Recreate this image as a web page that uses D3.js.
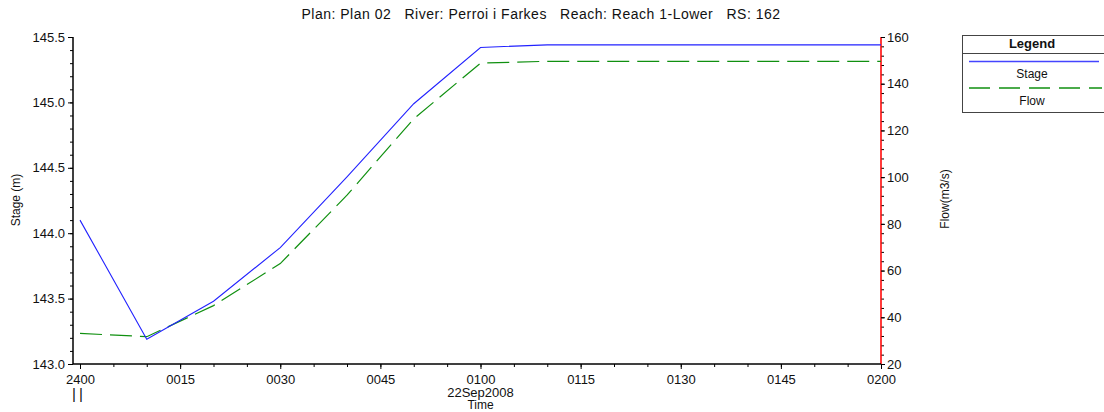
<!DOCTYPE html>
<html>
<head>
<meta charset="utf-8">
<script src="https://cdn.jsdelivr.net/npm/d3@7"></script>
<style>
  body { margin: 0; background: #fff; }
  svg { display: block; font-family: "Liberation Sans", Arial, sans-serif; }
  text { fill: #111; }
</style>
</head>
<body>
<div id="chart"></div>
<script>
// minutes after 2400 on 22Sep2008
const timeMin = [0, 10, 20, 30, 40, 50, 60, 70, 80, 90, 100, 110, 120];
const stage = [144.10, 143.19, 143.48, 143.89, 144.43, 144.99, 145.42, 145.44, 145.44, 145.44, 145.44, 145.44, 145.44];
const flow = [33.1, 31.7, 45.0, 63.0, 92.3, 125.0, 148.8, 149.6, 149.6, 149.6, 149.6, 149.6, 149.6];

const xTicks = [0, 15, 30, 45, 60, 75, 90, 105, 120];
const xTickLabels = ['2400', '0015', '0030', '0045', '0100', '0115', '0130', '0145', '0200'];
const stageTicks = [143.0, 143.5, 144.0, 144.5, 145.0, 145.5];
const flowTicks = [20, 40, 60, 80, 100, 120, 140, 160];

const title = 'Plan: Plan 02   River: Perroi i Farkes   Reach: Reach 1-Lower   RS: 162';

const width = 1104, height = 412;
const plotLeft = 73, plotRight = 881, plotTop = 37, plotBottom = 364;

const svg = d3.select('#chart').append('svg')
    .attr('width', width)
    .attr('height', height);

const x = d3.scaleLinear().domain([-1.05, 120]).range([plotLeft, plotRight]);
const yStage = d3.scaleLinear().domain([143.0, 145.5]).range([plotBottom, plotTop]);
const yFlow = d3.scaleLinear().domain([20, 160]).range([plotBottom, plotTop]);

// title
svg.append('text')
    .attr('x', 541).attr('y', 19)
    .attr('text-anchor', 'middle')
    .style('font-size', '14px')
    .style('letter-spacing', '0.5px')
    .style('white-space', 'pre')
    .attr('xml:space', 'preserve')
    .text(title);

// left axis (stage)
const gLeft = svg.append('g').attr('transform', 'translate(' + plotLeft + ',0)');
gLeft.call(d3.axisLeft(yStage).tickValues(d3.range(143.0, 145.51, 0.1)).tickSize(3).tickFormat(''));
gLeft.append('g').call(d3.axisLeft(yStage).tickValues(stageTicks).tickSize(5).tickPadding(3).tickFormat(d3.format('.1f')));
gLeft.selectAll('.domain').attr('stroke', '#000').attr('d', 'M0,' + plotTop + 'V' + plotBottom);
gLeft.selectAll('text').style('font-size', '13px').attr('fill', '#222');
gLeft.selectAll('line').attr('stroke', '#000');

// right axis (flow), red
const gRight = svg.append('g').attr('transform', 'translate(' + plotRight + ',0)');
gRight.call(d3.axisRight(yFlow).tickValues(d3.range(20, 160.1, 4)).tickSize(3).tickFormat(''));
gRight.append('g').call(d3.axisRight(yFlow).tickValues(flowTicks).tickSize(4).tickPadding(2));
gRight.selectAll('.domain').attr('stroke', '#ff2020').attr('stroke-width', 1.3).attr('d', 'M0,' + plotTop + 'V' + plotBottom);
gRight.selectAll('text').style('font-size', '13px').attr('fill', '#222');
gRight.selectAll('line').attr('stroke', '#000');

// bottom axis (time)
const gBottom = svg.append('g').attr('transform', 'translate(0,' + plotBottom + ')');
gBottom.call(d3.axisBottom(x).tickValues(d3.range(0, 120.1, 5)).tickSize(3).tickFormat(''));
gBottom.append('g').call(d3.axisBottom(x).tickValues(xTicks).tickSize(5).tickPadding(6)
    .tickFormat((d, i) => xTickLabels[i]));
gBottom.selectAll('.domain').attr('stroke', '#000').attr('d', 'M' + plotLeft + ',0H' + plotRight);
gBottom.selectAll('text').style('font-size', '13px').attr('fill', '#222');
gBottom.selectAll('line').attr('stroke', '#000');

// date and axis titles
svg.append('text')
    .attr('x', x(60)).attr('y', 397)
    .attr('text-anchor', 'middle')
    .style('font-size', '13px')
    .text('22Sep2008');
svg.append('text')
    .attr('x', x(60)).attr('y', 409)
    .attr('text-anchor', 'middle')
    .style('font-size', '12px')
    .text('Time');
svg.append('text')
    .attr('x', x(0) - 1).attr('y', 399)
    .attr('text-anchor', 'middle')
    .style('font-size', '15px')
    .style('letter-spacing', '3px')
    .text('||');

svg.append('text')
    .attr('transform', 'translate(20,200) rotate(-90)')
    .attr('text-anchor', 'middle')
    .style('font-size', '12px')
    .text('Stage (m)');
svg.append('text')
    .attr('transform', 'translate(949,199) rotate(-90)')
    .attr('text-anchor', 'middle')
    .style('font-size', '12px')
    .text('Flow(m3/s)');

// series
const stageLine = d3.line().x((d, i) => x(timeMin[i])).y(d => yStage(d));
const flowLine = d3.line().x((d, i) => x(timeMin[i])).y(d => yFlow(d));

svg.append('path')
    .datum(flow)
    .attr('d', flowLine)
    .attr('fill', 'none')
    .attr('stroke', '#109010')
    .attr('stroke-width', 1.2)
    .attr('stroke-dasharray', '22,8');

svg.append('path')
    .datum(stage)
    .attr('d', stageLine)
    .attr('fill', 'none')
    .attr('stroke', '#2222ff')
    .attr('stroke-width', 1.1);

// legend
const lg = svg.append('g').attr('transform', 'translate(962,35)');
lg.append('rect')
    .attr('x', 0.5).attr('y', 0.5)
    .attr('width', 150).attr('height', 77)
    .attr('fill', '#fff')
    .attr('stroke', '#444');
lg.append('line')
    .attr('x1', 0).attr('x2', 150)
    .attr('y1', 18.5).attr('y2', 18.5)
    .attr('stroke', '#444');
lg.append('text')
    .attr('x', 70).attr('y', 13)
    .attr('text-anchor', 'middle')
    .style('font-size', '13px')
    .style('font-weight', 'bold')
    .text('Legend');
lg.append('line')
    .attr('x1', 7).attr('x2', 137)
    .attr('y1', 26.5).attr('y2', 26.5)
    .attr('stroke', '#4444ff').attr('stroke-width', 1.6);
lg.append('text')
    .attr('x', 70).attr('y', 43)
    .attr('text-anchor', 'middle')
    .style('font-size', '12px')
    .text('Stage');
lg.append('line')
    .attr('x1', 7).attr('x2', 140)
    .attr('y1', 53).attr('y2', 53)
    .attr('stroke', '#109010').attr('stroke-width', 1.3)
    .attr('stroke-dasharray', '21,9');
lg.append('text')
    .attr('x', 70).attr('y', 70)
    .attr('text-anchor', 'middle')
    .style('font-size', '12px')
    .text('Flow');
</script>
</body>
</html>
